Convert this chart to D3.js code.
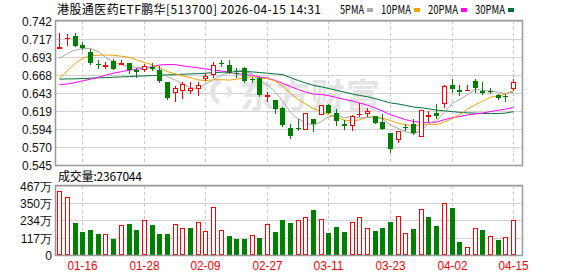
<!DOCTYPE html>
<html>
<head>
<meta charset="utf-8">
<script src="https://cdn.jsdelivr.net/npm/d3@7"></script>
<style>
  body { margin: 0; background: #fff; }
  svg { display: block; }
</style>
</head>
<body>
<div id="chart"></div>
<script>
// trading days shown on the chart
const dates = [
  "01-13","01-14","01-15","01-16","01-19","01-20","01-21","01-22","01-23","01-26",
  "01-27","01-28","01-29","01-30","02-02","02-03","02-04","02-05","02-06","02-09",
  "02-10","02-11","02-12","02-13","02-24","02-25","02-26","02-27","03-02","03-03",
  "03-04","03-05","03-06","03-09","03-10","03-11","03-12","03-13","03-16","03-17",
  "03-18","03-19","03-20","03-23","03-24","03-25","03-26","03-27","03-30","03-31",
  "04-01","04-02","04-03","04-07","04-08","04-09","04-10","04-13","04-14","04-15"
];
const xLabels = ["01-16","01-28","02-09","02-27","03-11","03-23","04-02","04-15"];

const open = [
  0.7033,0.7170,0.7220,0.7097,0.6997,0.6833,0.6797,0.6870,0.6815,0.6842,
  0.6751,0.6751,0.6797,0.6751,0.6588,0.6433,0.6469,0.6464,0.6492,0.6633,
  0.6683,0.6851,0.6819,0.6715,0.6774,0.6633,0.6637,0.6374,0.6341,0.6223,
  0.5950,0.5950,0.5930,0.6082,0.6137,0.6264,0.6160,0.6014,0.5987,0.6137,
  0.6146,0.6114,0.6037,0.5886,0.5786,0.5968,0.6014,0.5832,0.6105,0.6162,
  0.6282,0.6546,0.6478,0.6464,0.6601,0.6460,0.6469,0.6410,0.6392,0.6488
];
const high = [
  0.7261,0.7243,0.7252,0.7133,0.7038,0.6883,0.6856,0.6901,0.6888,0.6843,
  0.6783,0.6828,0.6842,0.6806,0.6588,0.6533,0.6592,0.6588,0.6588,0.6706,
  0.6865,0.6888,0.6888,0.6774,0.6797,0.6660,0.6660,0.6455,0.6341,0.6241,
  0.6009,0.6077,0.6160,0.6082,0.6264,0.6282,0.6214,0.6068,0.6128,0.6296,
  0.6228,0.6123,0.6146,0.5886,0.5918,0.6009,0.6077,0.6205,0.6191,0.6287,
  0.6542,0.6624,0.6546,0.6546,0.6624,0.6592,0.6501,0.6419,0.6424,0.6624
];
const low = [
  0.7033,0.7088,0.7080,0.7035,0.6828,0.6774,0.6774,0.6758,0.6815,0.6706,
  0.6656,0.6742,0.6751,0.6588,0.6356,0.6319,0.6360,0.6433,0.6401,0.6615,
  0.6651,0.6810,0.6706,0.6660,0.6592,0.6588,0.6397,0.6319,0.6155,0.5977,
  0.5814,0.5925,0.5925,0.5920,0.6128,0.6155,0.6000,0.5941,0.5932,0.6114,
  0.6123,0.6023,0.5937,0.5622,0.5759,0.5923,0.5873,0.5832,0.6058,0.6091,
  0.6241,0.6446,0.6405,0.6464,0.6455,0.6424,0.6433,0.6356,0.6319,0.6478
];
const close = [
  0.7065,0.7185,0.7083,0.7047,0.6851,0.6815,0.6818,0.6770,0.6847,0.6751,
  0.6728,0.6810,0.6770,0.6601,0.6369,0.6501,0.6556,0.6510,0.6542,0.6669,
  0.6819,0.6838,0.6715,0.6701,0.6605,0.6615,0.6401,0.6405,0.6214,0.5991,
  0.5841,0.5941,0.6160,0.6014,0.6264,0.6162,0.6058,0.5987,0.6114,0.6146,
  0.6191,0.6023,0.5946,0.5668,0.5918,0.5959,0.5886,0.6196,0.6132,0.6123,
  0.6528,0.6492,0.6442,0.6474,0.6510,0.6433,0.6455,0.6365,0.6382,0.6588
];
// volume, in 万
const volume = [
  430,390,215,154,168,141,145,107,206,209,
  168,240,202,141,141,213,186,181,220,165,
  322,172,127,107,107,138,113,213,154,236,
  215,240,260,304,247,147,188,154,220,254,
  186,161,181,222,267,152,175,308,256,195,
  349,317,86,57,186,168,131,100,125,236.7
];

// moving-average values before each window is full
const ma5Head  = [0.6906,0.6979,0.7024,0.7042];
const ma10Head = [0.6637,0.6742,0.6842,0.6910,0.6942,0.6951,0.6956,0.6951,0.6938];
const ma20Head = [0.6546,0.6560,0.6578,0.6601,0.6624,0.6651,0.6678,0.6706,0.6728,0.6747,
                  0.6760,0.6774,0.6797,0.6819,0.6824,0.6824,0.6806,0.6792,0.6779];
const ma30Head = [0.6624,0.6628,0.6628,0.6633,0.6637,0.6642,0.6646,0.6651,0.6655,0.6660,
                  0.6665,0.6669,0.6674,0.6678,0.6683,0.6687,0.6692,0.6696,0.6701,0.6706,
                  0.6715,0.6719,0.6724,0.6728,0.6728,0.6724,0.6715,0.6706,0.6696];

const priceTickLabels = ["0.742","0.717","0.693","0.668","0.643","0.619","0.594","0.570","0.545"];
const volTicks = [0, 117, 234, 350, 467];
const volTickLabels = ["0","117万","234万","350万","467万"];

const title = "港股通医药ETF鹏华[513700]  2026-04-15  14:31";
const volTitle = "成交量:2367044";
const maNames = ["5PMA","10PMA","20PMA","30PMA"];
const maColors = ["#a8a8a8","#f2a200","#ff00ff","#00703a"];

const W = 578, H = 276;
const left = 56, right = 522;
const pTop = 21, pBottom = 165, vTop = 186, vBottom = 255;
const RED = "#ff0000", GREEN = "#008000";
const CJK = "'Noto Sans CJK SC', sans-serif";

// bitmap-font style width: half width for ascii, full for CJK
const sw = s => Array.from(s).reduce((a, c) => a + (c.charCodeAt(0) > 255 ? 12 : 6), 0);

const svg = d3.select("#chart").append("svg")
  .attr("width", W).attr("height", H);

const x = d3.scaleBand().domain(dates).range([left, left + 7.69 * dates.length]);
const cxOf = d => Math.floor(x(d) + x.bandwidth() / 2);
const py = d3.scaleLinear().domain([0.545, 0.742]).range([pBottom, pTop]);
const vy = d3.scaleLinear().domain([0, 467]).range([vBottom, vTop]);

// header
svg.append("text").attr("x", 57).attr("y", 14)
  .attr("font-family", CJK).attr("font-size", 12).attr("fill", "#000")
  .attr("textLength", sw(title)).attr("lengthAdjust", "spacing")
  .text(title);

let lx = 340;
maNames.forEach((n, i) => {
  svg.append("text").attr("x", lx).attr("y", 14)
    .attr("font-family", CJK).attr("font-size", 12).attr("fill", "#000")
    .attr("textLength", sw(n)).attr("lengthAdjust", "spacingAndGlyphs")
    .text(n);
  svg.append("rect").attr("x", lx + sw(n) + 3).attr("y", 8)
    .attr("width", 6).attr("height", 4).attr("fill", maColors[i]);
  lx += sw(n) + 17;
});

// grids
const grid = svg.append("g");
priceTickLabels.forEach(t => {
  const yy = Math.round(py(+t)) + 0.5;
  grid.append("line").attr("x1", left).attr("x2", right).attr("y1", yy).attr("y2", yy)
    .attr("stroke", "#d2d2d2");
  svg.append("text").attr("x", 52).attr("y", yy + 4.5).attr("text-anchor", "end")
    .attr("font-family", "'Liberation Sans', Arial, sans-serif").attr("font-size", 12)
    .attr("fill", "#111").text(t);
});
volTicks.forEach((t, i) => {
  const yy = Math.round(vy(t)) + 0.5;
  grid.append("line").attr("x1", left).attr("x2", right).attr("y1", yy).attr("y2", yy)
    .attr("stroke", "#d2d2d2");
  svg.append("text").attr("x", 52).attr("y", yy + 4.5).attr("text-anchor", "end")
    .attr("font-family", "'Liberation Sans', Arial, sans-serif").attr("font-size", 12)
    .attr("fill", "#111").text(volTickLabels[i]);
});
xLabels.forEach(d => {
  const xx = cxOf(d) + 0.5;
  [[pTop, pBottom], [vTop, vBottom]].forEach(([a, b]) => {
    grid.append("line").attr("x1", xx).attr("x2", xx).attr("y1", a).attr("y2", b)
      .attr("stroke", "#c8c8c8").attr("stroke-dasharray", "3,3");
  });
  svg.append("text").attr("x", xx).attr("y", 270).attr("text-anchor", "middle")
    .attr("font-family", "'Liberation Sans', Arial, sans-serif").attr("font-size", 12)
    .attr("fill", RED).attr("textLength", sw(d)).attr("lengthAdjust", "spacingAndGlyphs")
    .text(d);
});

// watermark
const WM = "#e4e4e4";
svg.append("text").attr("x", 240).attr("y", 108)
  .attr("font-family", CJK).attr("font-size", 34).attr("font-weight", "bold")
  .attr("fill", WM).attr("textLength", 140).text("东方财富");
svg.append("path").attr("transform", "translate(224,92)")
  .attr("d", d3.arc()({innerRadius: 9, outerRadius: 14, startAngle: 3.6, endAngle: 6.0}))
  .attr("fill", WM);
svg.append("path").attr("transform", "translate(226,92)")
  .attr("d", d3.arc()({innerRadius: 2, outerRadius: 6, startAngle: 0.2, endAngle: 2.8}))
  .attr("fill", WM);

// moving averages
const movingAvg = (n, head) => close.map((c, i) =>
  i < n - 1 ? head[i] : d3.mean(close.slice(i - n + 1, i + 1)));
const maSeries = [movingAvg(5, ma5Head), movingAvg(10, ma10Head),
                  movingAvg(20, ma20Head), movingAvg(30, ma30Head)];
const line = d3.line().x((v, i) => cxOf(dates[i]) + 0.5).y(v => py(v));
[3, 2, 1, 0].forEach(k => {
  svg.append("path").attr("d", line(maSeries[k]))
    .attr("fill", "none").attr("stroke", maColors[k]).attr("stroke-width", 1);
});

// candles
const cg = svg.append("g").attr("shape-rendering", "crispEdges");
dates.forEach((d, i) => {
  const cx = cxOf(d);
  const o = open[i], c = close[i];
  const up = c >= o;
  const yt = Math.round(py(Math.max(o, c)));
  const yb = Math.round(py(Math.min(o, c)));
  const yh = Math.round(py(high[i]));
  const yl = Math.round(py(low[i]));
  const col = up ? RED : GREEN;
  if (up) {
    if (yh < yt) cg.append("line").attr("x1", cx + 0.5).attr("x2", cx + 0.5)
      .attr("y1", yh).attr("y2", yt).attr("stroke", col);
    if (yl > yb) cg.append("line").attr("x1", cx + 0.5).attr("x2", cx + 0.5)
      .attr("y1", yb).attr("y2", yl + 1).attr("stroke", col);
    if (yb - yt < 2) {
      cg.append("rect").attr("x", cx - 2).attr("y", yt).attr("width", 5).attr("height", 1)
        .attr("fill", col);
    } else {
      cg.append("rect").attr("x", cx - 1.5).attr("y", yt + 0.5)
        .attr("width", 4).attr("height", yb - yt - 1)
        .attr("fill", "#fff").attr("stroke", col);
    }
  } else {
    cg.append("line").attr("x1", cx + 0.5).attr("x2", cx + 0.5)
      .attr("y1", yh).attr("y2", yl + 1).attr("stroke", col);
    cg.append("rect").attr("x", cx - 2).attr("y", yt)
      .attr("width", 5).attr("height", Math.max(yb - yt, 1)).attr("fill", col);
  }
});

// volume bars, coloured against the previous close
dates.forEach((d, i) => {
  const cx = cxOf(d);
  const up = i === 0 ? close[i] >= open[i] : close[i] >= close[i - 1];
  const yt = Math.round(vy(volume[i]));
  if (up) {
    cg.append("rect").attr("x", cx - 1.5).attr("y", yt + 0.5)
      .attr("width", 4).attr("height", vBottom - yt - 1)
      .attr("fill", "#fff").attr("stroke", RED);
  } else {
    cg.append("rect").attr("x", cx - 2).attr("y", yt)
      .attr("width", 5).attr("height", vBottom - yt).attr("fill", GREEN);
  }
});

// frames
[[pTop, pBottom], [vTop, vBottom]].forEach(([a, b]) => {
  svg.append("rect").attr("x", left - 0.5).attr("y", a - 0.5)
    .attr("width", right - left + 1).attr("height", b - a + 1)
    .attr("fill", "none").attr("stroke", "#9a9a9a").attr("stroke-width", 1.5);
});

svg.append("text").attr("x", 58).attr("y", 181)
  .attr("font-family", CJK).attr("font-size", 12).attr("fill", "#000")
  .attr("textLength", sw(volTitle)).attr("lengthAdjust", "spacing")
  .text(volTitle);
</script>
</body>
</html>
